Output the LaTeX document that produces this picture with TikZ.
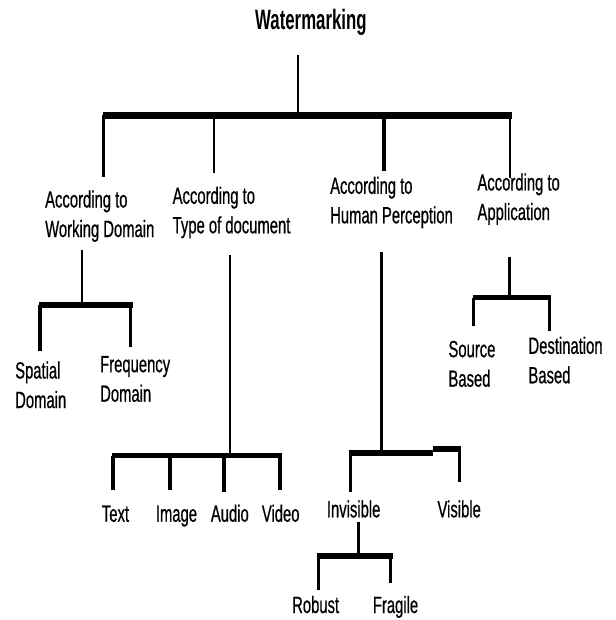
\documentclass[tikz,border=0pt]{standalone}
\usepackage{fontspec}
\setmainfont{Liberation Sans}[FakeStretch=0.63, FakeBold=0.6]
\newfontfamily\titlefont{Liberation Sans}[FakeStretch=0.6]

\begin{document}
\begin{tikzpicture}[x=1pt,y=-1pt,
    lbl/.style={anchor=base west, inner sep=0pt, align=left,
      font=\fontsize{23.5}{29.5}\selectfont},
    ttl/.style={anchor=base west, inner sep=0pt,
      font=\titlefont\bfseries\fontsize{28}{30}\selectfont},
    stem/.style={line width=2.8pt},
    drop/.style={line width=3.2pt},
    bar/.style={line width=6pt}]
    \useasboundingbox (0,0) rectangle (615,620);
    \node[ttl] (wm) at (255,30) {Watermarking};
    \node[lbl] (wd) at (45,237) {According to\\Working Domain};
    \node[lbl] (td) at (172.5,233.3) {According to\\Type of document};
    \node[lbl] (hp) at (330,223.3) {According to\\Human Perception};
    \node[lbl] (ap) at (477.3,220) {According to\\Application};
    \node[lbl] (sd) at (15,408) {Spatial\\Domain};
    \node[lbl] (fd) at (100,401.7) {Frequency\\Domain};
    \node[lbl] (sb) at (448.3,386.7) {Source\\Based};
    \node[lbl] (db) at (528.3,383.3) {Destination\\Based};
    \node[lbl] (tx) at (101.7,521.7) {Text};
    \node[lbl] (im) at (155.7,521.7) {Image};
    \node[lbl] (au) at (210.7,521.7) {Audio};
    \node[lbl] (vi) at (261.7,521.7) {Video};
    \node[lbl] (inv) at (326.7,517.3) {Invisible};
    \node[lbl] (vis) at (437.3,517.3) {Visible};
    \node[lbl] (rob) at (292,613) {Robust};
    \node[lbl] (fra) at (372.7,613) {Fragile};
    \coordinate (m0) at (298,55);
    \coordinate (mL) at (102.5,115.5);
    \coordinate (mR) at (512,115.5);
    \coordinate (m1) at (103.3,177);
    \coordinate (m2) at (214,173);
    \coordinate (m3) at (384,171);
    \coordinate (m4) at (510,178);
    \coordinate (w0) at (82,250);
    \coordinate (wL) at (39,305);
    \coordinate (wR) at (133,305);
    \coordinate (w1) at (40,351);
    \coordinate (w2) at (130.5,347);
    \coordinate (t0) at (230,255);
    \coordinate (tL) at (111.5,455.5);
    \coordinate (tR) at (282,455.5);
    \coordinate (t1) at (113,490);
    \coordinate (t2) at (170,490);
    \coordinate (t3) at (224,491.5);
    \coordinate (t4) at (280,490);
    \coordinate (h0) at (381.7,252);
    \coordinate (hL) at (349,453.3);
    \coordinate (hM) at (433,453.3);
    \coordinate (hN) at (433,448.5);
    \coordinate (hR) at (460.8,448.5);
    \coordinate (h1) at (350.5,492);
    \coordinate (h2) at (459.3,482);
    \coordinate (i0) at (358.3,521.7);
    \coordinate (iL) at (316.7,556);
    \coordinate (iR) at (392.7,556);
    \coordinate (i1) at (318.3,590);
    \coordinate (i2) at (390.7,583);
    \coordinate (a0) at (509.3,256.7);
    \coordinate (aL) at (472.5,297.5);
    \coordinate (aR) at (550.7,297.5);
    \coordinate (a1) at (473.8,326);
    \coordinate (a2) at (549.5,330.7);
    \draw[stem] (m0) -- (m0 |- mL);
    \draw[bar, line width=7pt] (mL) -- (mR);
    \draw[stem] (m1 |- mL) -- (m1) (m2 |- mL) -- (m2) (m4 |- mL) -- (m4);
    \draw[drop] (m3 |- mL) -- (m3);
    \draw[stem] (w0) -- (w0 |- wL);
    \draw[bar] (wL) -- (wR);
    \draw[drop] (w1 |- wL) -- (w1) (w2 |- wL) -- (w2);
    \draw[stem] (t0) -- (t0 |- tL);
    \draw[bar, line width=5.5pt] (tL) -- (tR);
    \draw[drop] (t1 |- tL) -- (t1) (t2 |- tL) -- (t2)
      (t3 |- tL) -- (t3) (t4 |- tL) -- (t4);
    \draw[stem] (h0) -- (h0 |- hL);
    \draw[bar] (hL) -- (hM) (hN) -- (hR);
    \draw[drop] (h1 |- hL) -- (h1) (h2 |- hR) -- (h2);
    \draw[stem] (i0) -- (i0 |- iL);
    \draw[bar, line width=6.5pt] (iL) -- (iR);
    \draw[drop] (i1 |- iL) -- (i1) (i2 |- iL) -- (i2);
    \draw[stem] (a0) -- (a0 |- aL);
    \draw[bar, line width=5pt] (aL) -- (aR);
    \draw[drop] (a1 |- aL) -- (a1) (a2 |- aL) -- (a2);
\end{tikzpicture}
\end{document}
